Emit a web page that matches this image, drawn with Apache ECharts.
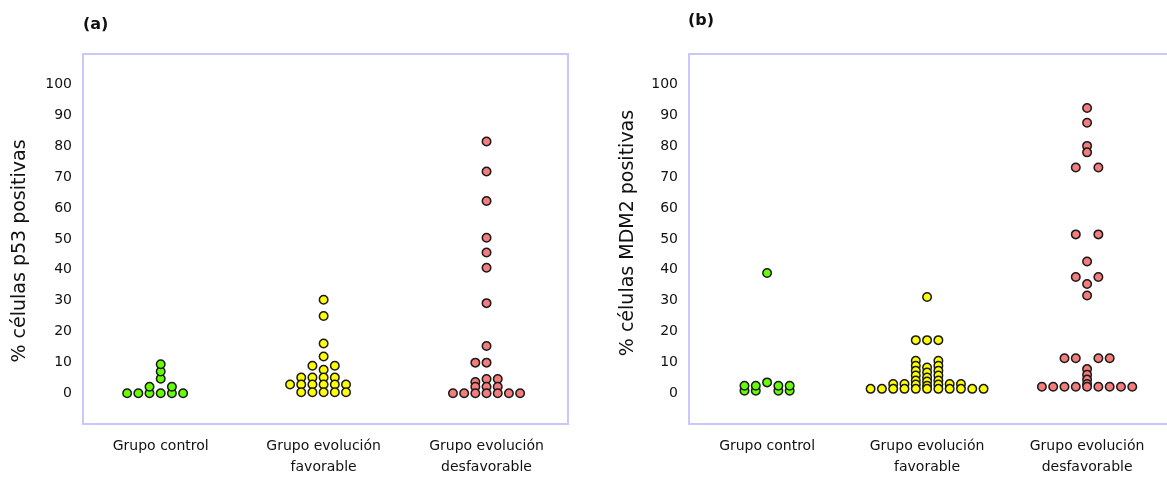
<!DOCTYPE html>
<html>
<head>
<meta charset="utf-8">
<script src="https://cdn.jsdelivr.net/npm/echarts@6/dist/echarts.min.js"></script>
<style>
  html, body { margin: 0; padding: 0; background: #fff; }
  #chart { width: 1167px; height: 478px; }
</style>
</head>
<body>
<div id="chart"></div>
<script>
// categorias y ejes
var groupNames = ['Grupo control', 'Grupo evolución\nfavorable', 'Grupo evolución\ndesfavorable'];
var yTicks = [0, 10, 20, 30, 40, 50, 60, 70, 80, 90, 100];

// (a) p53 - valores y columna del punto dentro del grupo
var p53Control = [0, 0, 0, 2.1, 0, 4.7, 7.0, 9.4, 0, 2.1, 0];
var p53ControlCol = [-3, -2, -1, -1, 0, 0, 0, 0, 1, 1, 2];
var p53Fav = [30.3, 25.0, 16.1, 11.9, 7.6, 5.1, 2.8, 0.3,
  8.9, 5.1, 2.8, 0.3,
  8.9, 5.1, 2.8, 0.3,
  5.1, 2.8, 0.3,
  2.8,
  2.8, 0.3];
var p53FavCol = [0, 0, 0, 0, 0, 0, 0, 0,
  -1, -1, -1, -1,
  1, 1, 1, 1,
  -2, -2, -2,
  -3,
  2, 2];
var p53Desf = [81.6, 71.9, 62.3, 50.4, 45.6, 40.7, 29.2, 15.3, 9.9, 4.6, 2.1, 0,
  9.9, 3.6, 2.1, 0,
  4.6, 2.1, 0,
  0, 0, 0, 0];
var p53DesfCol = [0, 0, 0, 0, 0, 0, 0, 0, 0, 0, 0, 0,
  -1, -1, -1, -1,
  1, 1, 1,
  -3, -2, 2, 3];

// (b) MDM2
var mdmControl = [0.8, 2.4, 0.8, 2.4, 3.5, 39, 0.8, 2.4, 0.8, 2.4];
var mdmControlCol = [-2, -2, -1, -1, 0, 0, 1, 1, 2, 2];
var mdmFav = [31.2, 17.2, 17.2, 17.2,
  10.5, 8.9, 7.3, 5.7, 4.1, 2.8, 1.4,
  8.3, 6.7, 5.1, 3.8, 2.4, 1.4,
  10.5, 8.9, 7.3, 5.7, 4.1, 2.8, 1.4,
  3.0, 1.4, 3.0, 1.4, 3.0, 1.4, 3.0, 1.4,
  1.4, 1.4, 1.4, 1.4];
var mdmFavCol = [0, -1, 0, 1,
  -1, -1, -1, -1, -1, -1, -1,
  0, 0, 0, 0, 0, 0,
  1, 1, 1, 1, 1, 1, 1,
  -3, -3, -2, -2, 2, 2, 3, 3,
  -5, -4, 4, 5];
var mdmDesf = [92.5, 87.7, 80.2, 78.1, 42.7, 35.4, 31.7, 7.8, 6.0, 4.4, 3.0, 2.1,
  73.2, 51.5, 37.7, 11.3, 2.1,
  73.2, 51.5, 37.7, 11.3, 2.1,
  11.3, 2.1, 11.3, 2.1,
  2.1, 2.1, 2.1, 2.1];
var mdmDesfCol = [0, 0, 0, 0, 0, 0, 0, 0, 0, 0, 0, 0,
  -1, -1, -1, -1, -1,
  1, 1, 1, 1, 1,
  -2, -2, 2, 2,
  -4, -3, 3, 4];

var colors = ['#66ff00', '#ffff00', '#f47c7c'];
var font = 'DejaVu Sans';
var frame = { color: '#c8c8ff', width: 2 };

function pts(vals, cols, group, step) {
  var out = [];
  for (var i = 0; i < vals.length; i++) {
    out.push([group + cols[i] * step, vals[i]]);
  }
  return out;
}

function dots(name, vals, cols, group, step, xIdx, yIdx) {
  return {
    name: name,
    type: 'scatter',
    xAxisIndex: xIdx,
    yAxisIndex: yIdx,
    symbol: 'circle',
    symbolSize: 8.5,
    silent: true,
    itemStyle: {
      color: colors[group - 1],
      borderColor: '#1a1a1a',
      borderWidth: 1.5,
      opacity: 1
    },
    data: pts(vals, cols, group, step)
  };
}

function xAxisFor(panel, min, max, lineOn) {
  return {
    type: 'value',
    gridIndex: panel,
    min: min,
    max: max,
    axisLine: { show: lineOn, onZero: false, lineStyle: frame },
    axisTick: { show: false },
    splitLine: { show: false },
    axisLabel: {
      customValues: [1, 2, 3],
      formatter: function (v) { return groupNames[Math.round(v) - 1]; },
      margin: 12,
      fontFamily: font,
      fontSize: 14,
      lineHeight: 21,
      color: '#111'
    }
  };
}

function yAxisFor(panel, title, gap, pad, lineOn) {
  return {
    type: 'value',
    gridIndex: panel,
    min: -10,
    max: 110,
    name: title,
    nameLocation: 'middle',
    nameGap: gap,
    nameTextStyle: {
      fontFamily: font,
      fontSize: 19,
      color: '#111',
      padding: pad
    },
    axisLine: { show: lineOn, onZero: false, lineStyle: frame },
    axisTick: { show: false },
    splitLine: { show: false },
    axisLabel: {
      customValues: yTicks,
      margin: 11,
      fontFamily: font,
      fontSize: 14,
      color: '#111'
    }
  };
}

var chart = echarts.init(document.getElementById('chart'), null, { renderer: 'canvas' });

chart.setOption({
  animation: false,
  backgroundColor: '#fff',
  title: [
    { text: '(a)', left: 83, top: 17, padding: 0,
      textStyle: { fontFamily: font, fontSize: 16, fontWeight: 'bold', color: '#111' } },
    { text: '(b)', left: 688, top: 13, padding: 0,
      textStyle: { fontFamily: font, fontSize: 16, fontWeight: 'bold', color: '#111' } }
  ],
  grid: [
    { left: 83, top: 54, width: 485, height: 373, show: true,
      borderColor: frame.color, borderWidth: frame.width, backgroundColor: 'transparent' },
    // el panel (b) queda cortado por la derecha: marco solo con lineas de eje
    { left: 689, top: 54, right: 0, height: 372, show: false }
  ],
  xAxis: [
    xAxisFor(0, 0.523, 3.5, false),
    xAxisFor(1, 0.512, 3.4995, true),
    {
      type: 'value', gridIndex: 1, position: 'top', min: 0.512, max: 3.4995,
      axisLine: { show: true, onZero: false, lineStyle: frame },
      axisTick: { show: false }, axisLabel: { show: false }, splitLine: { show: false }
    }
  ],
  yAxis: [
    yAxisFor(0, '% células p53 positivas', 53, [0, 24, 0, 0], false),
    yAxisFor(1, '% células MDM2 positivas', 51, [0, 0, 0, 12], true)
  ],
  series: [
    dots('p53 control', p53Control, p53ControlCol, 1, 0.0687, 0, 0),
    dots('p53 favorable', p53Fav, p53FavCol, 2, 0.0687, 0, 0),
    dots('p53 desfavorable', p53Desf, p53DesfCol, 3, 0.0687, 0, 0),
    dots('MDM2 control', mdmControl, mdmControlCol, 1, 0.0706, 1, 1),
    dots('MDM2 favorable', mdmFav, mdmFavCol, 2, 0.0706, 1, 1),
    dots('MDM2 desfavorable', mdmDesf, mdmDesfCol, 3, 0.0706, 1, 1)
  ]
});
</script>
</body>
</html>
